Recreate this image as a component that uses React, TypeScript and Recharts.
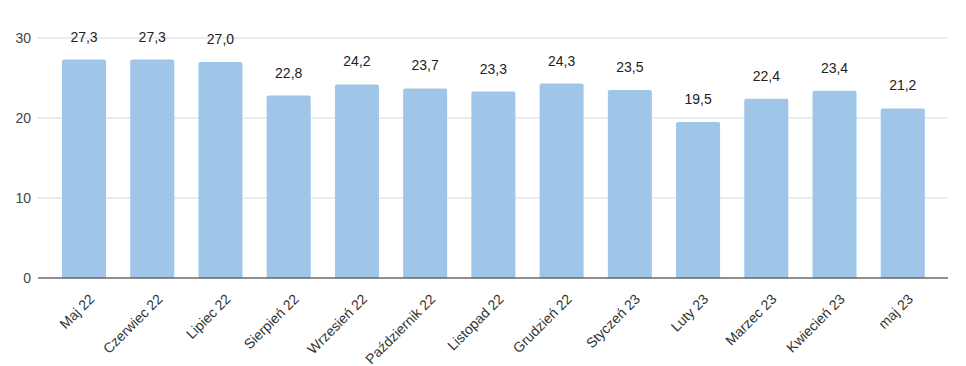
import { BarChart, Bar, XAxis, YAxis, CartesianGrid, LabelList } from 'recharts';

// miesiące i wartości
const months = [
  'Maj 22', 'Czerwiec 22', 'Lipiec 22', 'Sierpień 22', 'Wrzesień 22', 'Październik 22',
  'Listopad 22', 'Grudzień 22', 'Styczeń 23', 'Luty 23', 'Marzec 23', 'Kwiecień 23', 'maj 23',
];
const values = [27.3, 27.3, 27.0, 22.8, 24.2, 23.7, 23.3, 24.3, 23.5, 19.5, 22.4, 23.4, 21.2];
const yTicks = [0, 10, 20, 30];

const data = months.map((m, i) => ({ month: m, value: values[i] }));

const font = 'Arial, "Liberation Sans", sans-serif';

function MonthTick(props: any) {
  const { x, y, payload } = props;
  return (
    <g transform={`translate(${x + 4},${y + 7}) rotate(-45)`}>
      <text x={0} y={0} dy="0.71em" textAnchor="end" fill="#333" fontSize={14} fontFamily={font}>
        {payload.value}
      </text>
    </g>
  );
}

export default function App() {
  return (
    <div style={{ position: 'absolute', left: 0, top: 0 }}>
      <BarChart
        width={966}
        height={366}
        data={data}
        margin={{ top: 38, right: 18, left: 0, bottom: 8 }}
        barCategoryGap={12}
      >
        <CartesianGrid vertical={false} stroke="#d9d9d9" />
        <XAxis
          dataKey="month"
          interval={0}
          height={80}
          tickLine={false}
          axisLine={{ stroke: '#333' }}
          padding={{ left: 12, right: 11 }}
          tick={<MonthTick />}
        />
        <YAxis
          width={38}
          domain={[0, 30]}
          ticks={yTicks}
          tickLine={false}
          axisLine={false}
          tickMargin={1}
          tick={{ fill: '#444', fontSize: 14, fontFamily: font }}
        />
        <Bar dataKey="value" fill="#9fc5e8" radius={[2, 2, 0, 0]} isAnimationActive={false}>
          <LabelList
            dataKey="value"
            position="top"
            offset={18}
            formatter={(v: any) => Number(v).toFixed(1).replace('.', ',')}
            style={{ fill: '#222', fontSize: 14, fontFamily: font }}
          />
        </Bar>
      </BarChart>
    </div>
  );
}
